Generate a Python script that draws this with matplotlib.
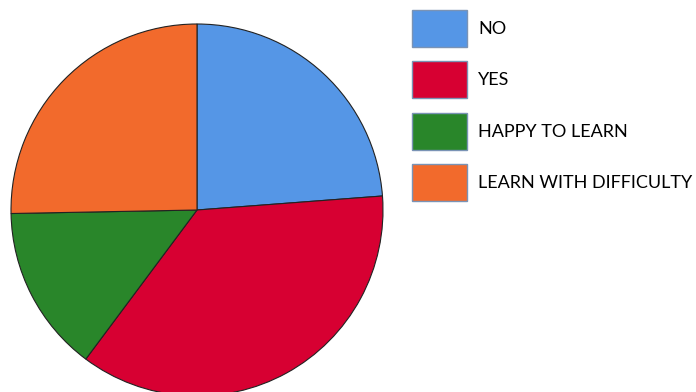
import matplotlib.pyplot as plt
from matplotlib.patches import Patch

labels = ["NO", "YES", "HAPPY TO LEARN", "LEARN WITH DIFFICULTY"]
shares = [23.8, 36.4, 14.5, 25.3]
colors = ["#5596E6", "#D70032", "#29862A", "#F26A2C"]

fig = plt.figure(figsize=(6.96, 3.92), dpi=100)
ax = fig.add_axes([11 / 696, -4 / 392, 372 / 696, 372 / 392])

ax.pie(shares, colors=colors, startangle=90, counterclock=False,
       radius=1, wedgeprops=dict(edgecolor="#222222", linewidth=0.8))
ax.set_xlim(-1, 1)
ax.set_ylim(-1, 1)
ax.set_aspect("equal")
ax.axis("off")

# swatches are ~55x37 px with a thin grey-blue frame
handles = [Patch(facecolor=c, edgecolor="#7A93B5", linewidth=1) for c in colors]
fig.legend(handles, labels, loc="upper left", bbox_to_anchor=(412 / 696, 1 - 10 / 392),
           frameon=False, prop=dict(family="Lato", size=13),
           borderpad=0, borderaxespad=0,
           handlelength=3.05, handleheight=2.77, labelspacing=0.8, handletextpad=0.6)

fig.savefig("out.png", dpi=100)
